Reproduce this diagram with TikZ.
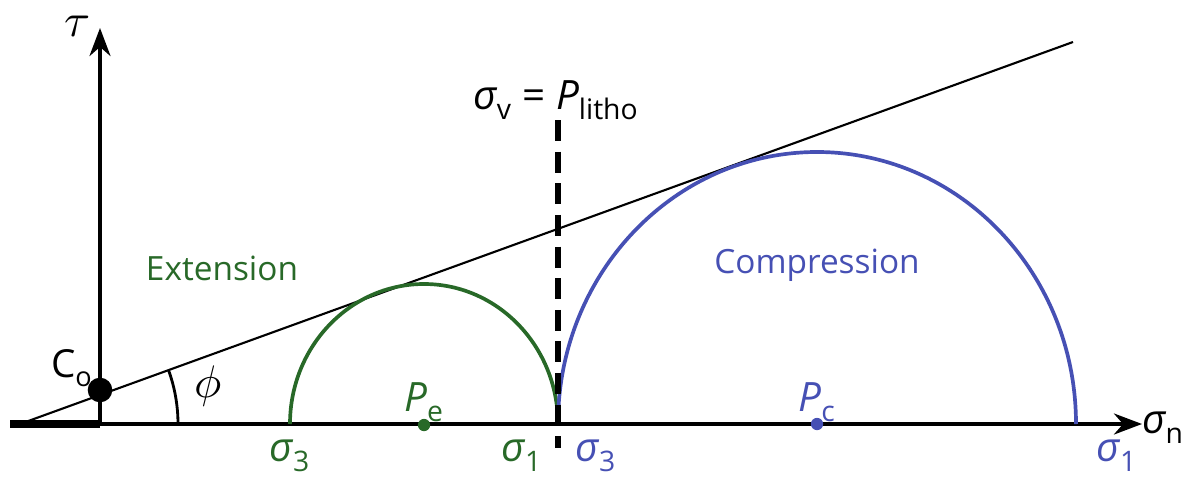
\documentclass[tikz,border=0pt]{standalone}
\usepackage{fontspec}
\usepackage{unicode-math}
\setmainfont{Open Sans}
\setmathfont{Latin Modern Math}
\usetikzlibrary{arrows.meta}
\definecolor{eg}{RGB}{40,105,40}
\definecolor{cb}{RGB}{70,80,180}
\newcommand{\sig}{{\itshape σ}}
\newcommand{\sub}[1]{\textsubscript{#1}}
\tikzset{
  axis/.style={line width=1.8pt,-{Stealth[length=16pt,width=12pt]}},
  lbl/.style={font=\fontsize{23}{27}\selectfont, inner sep=0pt},
  word/.style={font=\fontsize{19}{23}\selectfont, inner sep=0pt},
}
\begin{document}
\begin{tikzpicture}[x=0.02cm,y=-0.02cm]
\useasboundingbox (0,0) rectangle (1193,480);
% coordinates
\coordinate (O) at (100,424);
\coordinate (L) at (10,424);
\coordinate (XE) at (1142,424);
\coordinate (YE) at (100,28);
\coordinate (A) at (20,424);
\coordinate (B) at (1073,42);
\coordinate (DT) at (558,120);
\coordinate (DB) at (558,448);
% axes
\draw[axis] (L) -- (XE);
\draw[axis] (O) -- (YE);
\draw[line width=4pt] (L) -- (O);
% Coulomb line
\draw[line width=1.2pt] (A) -- (B);
% phi arc
\draw[line width=1.6pt] (178,424) arc[start angle=0, end angle=-19.9, radius=158];
% circles
\draw[eg, line width=2.1pt] (558,424) arc[start angle=0, end angle=-180, x radius=134, y radius=140];
\draw[cb, line width=2.1pt] (1076,424) arc[start angle=0, end angle=-180, x radius=259, y radius=272];
% dashed
\draw[line width=3pt, dash pattern=on 12pt off 6pt] (DT) -- (DB);
% dots
\node[circle, fill=black, inner sep=0pt, minimum size=14pt] (C) at (100,390) {};
\node[circle, fill=eg, inner sep=0pt, minimum size=7pt] (pe) at (424,425) {};
\node[circle, fill=cb, inner sep=0pt, minimum size=7pt] (pc) at (817,424) {};
% labels
\node[lbl, font=\fontsize{27}{30}\selectfont] (tau) at (77,27) {$\tau$};
\node[lbl] (sn) at (1163,428) {\sig\sub{n}};
\node[word, font=\fontsize{22}{26}\selectfont, anchor=east] (co) at (93,368) {C\sub{o}};
\node[lbl, font=\fontsize{26}{30}\selectfont] (phi) at (208,386) {$\phi$};
\node[lbl, eg] (s3e) at (290,456) {\sig\sub{3}};
\node[lbl, eg] (s1e) at (522,456) {\sig\sub{1}};
\node[lbl, cb] (s3c) at (596,456) {\sig\sub{3}};
\node[lbl, cb] (s1c) at (1117,456) {\sig\sub{1}};
\node[lbl, eg] (Pe) at (424,402) {{\itshape P}\sub{e}};
\node[lbl, cb] (Pc) at (817,402) {{\itshape P}\sub{c}};
\node[word, eg] (ext) at (222,268) {Extension};
\node[word, cb] (comp) at (817,265) {Compression};
\node[lbl] (sv) at (556,100) {\sig\sub{v} = {\itshape P}\sub{litho}};
\end{tikzpicture}
\end{document}
